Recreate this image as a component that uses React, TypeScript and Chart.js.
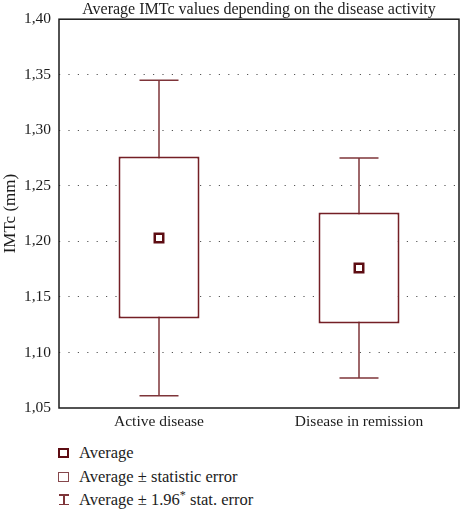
import React, { useEffect, useRef } from "react";
import { Chart, registerables } from "chart.js";

Chart.register(...registerables);

const categories = ["Active disease", "Disease in remission"];
const means = [1.203, 1.176];
const seLow = [1.1305, 1.126];
const seHigh = [1.2765, 1.226];
const ciLow = [1.061, 1.077];
const ciHigh = [1.345, 1.275];
const yTicks = [1.05, 1.1, 1.15, 1.2, 1.25, 1.3, 1.35, 1.4];

const FONT = "'Liberation Serif', 'Times New Roman', serif";
const BOX = "#741f25";
const WHISK = "#7e3439";
const MEAN = "#5e0d13";
const TEXT = "#1c1c1c";

const framePlugin = {
  id: "frame",
  afterDatasetsDraw(chart: any) {
    const { ctx, chartArea } = chart;
    ctx.save();
    ctx.strokeStyle = "#1a1a1a";
    ctx.lineWidth = 1.5;
    ctx.strokeRect(chartArea.left, chartArea.top, chartArea.right - chartArea.left, chartArea.bottom - chartArea.top);
    ctx.restore();
  },
};

export default function App() {
  const ref = useRef<HTMLCanvasElement>(null);
  useEffect(() => {
    if (!ref.current) return;
    const whiskerData: any[] = [];
    categories.forEach((c, i) => {
      whiskerData.push({ x: c, y: ciLow[i] });
      whiskerData.push({ x: c, y: ciHigh[i] });
      whiskerData.push({ x: c, y: null });
    });
    const chart = new Chart(ref.current, {
      type: "bar",
      data: {
        labels: categories,
        datasets: [
          {
            type: "line",
            label: "Average ± 1.96* stat. error",
            data: whiskerData,
            borderColor: WHISK,
            borderWidth: 1.5,
            pointStyle: "line",
            pointRadius: whiskerData.map((d) => (d.y === null ? 0 : 19.5)),
            pointBorderColor: WHISK,
            pointBorderWidth: 1.5,
            spanGaps: false,
            order: 3,
          } as any,
          {
            type: "bar",
            label: "Average ± statistic error",
            data: categories.map((_, i) => [seLow[i], seHigh[i]]),
            backgroundColor: "#ffffff",
            borderColor: BOX,
            borderWidth: 2,
            borderSkipped: false,
            barPercentage: 0.405,
            categoryPercentage: 1,
            order: 2,
          } as any,
          {
            type: "line",
            label: "Average",
            data: categories.map((c, i) => ({ x: c, y: means[i] })),
            showLine: false,
            pointStyle: "rect",
            pointRadius: 6,
            pointBorderWidth: 2.5,
            pointBorderColor: MEAN,
            pointBackgroundColor: "#ffffff",
            order: 1,
          } as any,
        ],
      },
      options: {
        animation: false,
        responsive: false,
        maintainAspectRatio: false,
        layout: { autoPadding: false, padding: { left: 0, right: 5, top: 0, bottom: 0 } },
        plugins: {
          legend: { display: false },
          tooltip: { enabled: false },
          title: {
            display: true,
            text: "Average IMTc values depending on the disease activity",
            fullSize: false,
            color: TEXT,
            font: { family: FONT, size: 16, weight: "normal" },
            padding: { top: 0, bottom: 0 },
          },
        },
        scales: {
          x: {
            grid: { display: false, drawTicks: false },
            border: { display: false },
            ticks: {
              color: TEXT,
              font: { family: FONT, size: 15.5 },
              padding: 4.5,
            },
            afterFit: (s: any) => {
              s.height = 30;
              s.paddingLeft = 0;
              s.paddingRight = 0;
            },
          },
          y: {
            min: 1.05,
            max: 1.4,
            afterBuildTicks: (s: any) => {
              s.ticks = yTicks.map((v) => ({ value: v }));
            },
            ticks: {
              color: TEXT,
              font: { family: FONT, size: 15.5 },
              padding: 8,
              callback: (v: any) => Number(v).toFixed(2).replace(".", ","),
            },
            grid: {
              drawTicks: false,
              lineWidth: 1,
              color: (c: any) =>
                c.tick && c.tick.value > 1.06 && c.tick.value < 1.39 ? "#555" : "rgba(0,0,0,0)",
            },
            border: { display: false, dash: [1.2, 8.2] },
            title: {
              display: true,
              text: "IMTc (mm)",
              color: TEXT,
              font: { family: FONT, size: 17 },
              padding: { top: 0, bottom: 0 },
            },
            afterFit: (s: any) => {
              s.width = 59;
            },
          },
        },
      },
      plugins: [framePlugin],
    });
    return () => chart.destroy();
  }, []);

  const textStyle: React.CSSProperties = {
    position: "absolute",
    left: 79,
    fontFamily: FONT,
    fontSize: 16.5,
    color: TEXT,
    whiteSpace: "nowrap",
    lineHeight: "18px",
  };

  return (
    <div style={{ position: "absolute", left: 0, top: 0, width: 464, height: 509, background: "#fff", overflow: "hidden" }}>
      <canvas ref={ref} width={464} height={438} style={{ position: "absolute", left: 0, top: 0 }} />
      <div style={{ position: "absolute", left: 58, top: 447.5, width: 6.5, height: 6.5, border: `2.5px solid ${MEAN}` }} />
      <div style={{ ...textStyle, top: 444 }}>Average</div>
      <div style={{ position: "absolute", left: 58, top: 471.5, width: 9, height: 8, border: `1.3px solid #86474c` }} />
      <div style={{ ...textStyle, top: 468 }}>Average ± statistic error</div>
      <div style={{ position: "absolute", left: 59, top: 494, width: 10, height: 1.5, background: WHISK }} />
      <div style={{ position: "absolute", left: 63.3, top: 494, width: 1.5, height: 11, background: WHISK }} />
      <div style={{ position: "absolute", left: 59, top: 503.5, width: 10, height: 1.5, background: WHISK }} />
      <div style={{ ...textStyle, top: 491 }}>
        Average ± 1.96<sup style={{ fontSize: 12, lineHeight: 0, verticalAlign: "6px" }}>*</sup> stat. error
      </div>
    </div>
  );
}
